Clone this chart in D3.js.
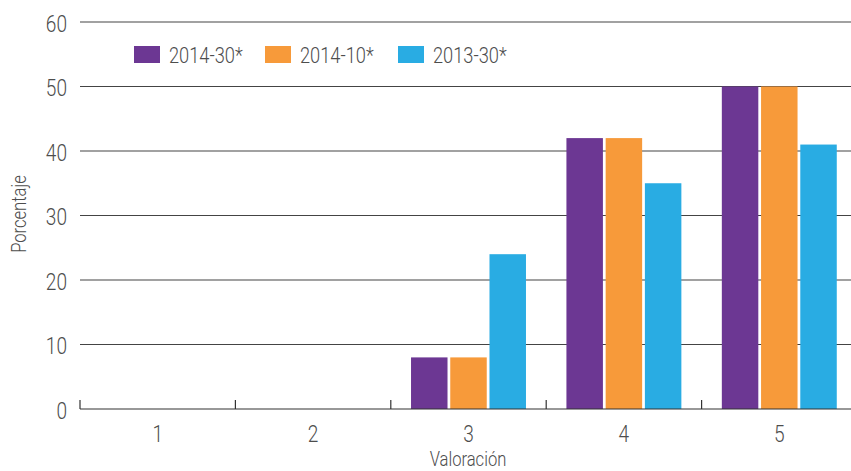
<!DOCTYPE html>
<html>
<head>
<meta charset="utf-8">
<script src="https://cdn.jsdelivr.net/npm/d3@7"></script>
<style>
  body { margin: 0; background: #fff; }
  svg text { font-family: Roboto, "Liberation Sans", sans-serif; font-weight: 300; fill: #4d4d4d; }
</style>
</head>
<body>
<svg id="chart" width="851" height="471"></svg>
<script>
// Valoración categories and percentage per series
const categories = ["1", "2", "3", "4", "5"];
const seriesNames = ["2014-30*", "2014-10*", "2013-30*"];
const values2014_30 = [0, 0, 8, 42, 50];
const values2014_10 = [0, 0, 8, 42, 50];
const values2013_30 = [0, 0, 24, 35, 41];
const yTicks = [0, 10, 20, 30, 40, 50, 60];
const colors = ["#6c3793", "#f79a3a", "#29ace3"];

const seriesValues = [values2014_30, values2014_10, values2013_30];
const rows = categories.map((c, i) => ({
  cat: c,
  vals: seriesNames.map((s, j) => ({ key: s, value: seriesValues[j][i], idx: j }))
}));

const svg = d3.select("#chart");
const plotLeft = 80, plotRight = 857, plotTop = 22, plotBottom = 409;
const narrow = 0.83; // horizontal squeeze for a condensed look

const x0 = d3.scaleBand().domain(categories).range([plotLeft, plotRight])
  .paddingInner(0.225).paddingOuter(0.1125);
const x1 = d3.scaleBand().domain(seriesNames).range([0, x0.bandwidth()]).padding(0.07);
const y = d3.scaleLinear().domain([0, 60]).range([plotBottom, plotTop]);

// places a condensed text label at (x, y)
function label(parent, x, yPos, txt, size, anchor, rotate) {
  return parent.append("text")
    .attr("transform", `translate(${x},${yPos})` + (rotate ? ` rotate(${rotate})` : "") + ` scale(${narrow},1)`)
    .attr("text-anchor", anchor).attr("font-size", size).text(txt);
}

// horizontal gridlines
svg.append("g").selectAll("line").data(yTicks.filter(d => d > 0)).join("line")
  .attr("x1", plotLeft).attr("x2", 851)
  .attr("y1", d => y(d)).attr("y2", d => y(d))
  .attr("stroke", "#444").attr("stroke-width", 1.2);

// y tick labels
const yLab = svg.append("g");
yTicks.forEach(d => label(yLab, 67, y(d) + 9.5, d, 23, "end"));

// bars
const groups = svg.append("g").selectAll("g").data(rows).join("g")
  .attr("transform", d => `translate(${x0(d.cat)},0)`);
groups.selectAll("rect").data(d => d.vals).join("rect")
  .attr("x", d => x1(d.key))
  .attr("width", x1.bandwidth())
  .attr("y", d => y(d.value))
  .attr("height", d => y(0) - y(d.value))
  .attr("fill", d => colors[d.idx]);

// x axis with ticks between categories
const step = x0.step();
const xAxisG = svg.append("g");
xAxisG.append("line").attr("x1", plotLeft).attr("x2", 851)
  .attr("y1", plotBottom).attr("y2", plotBottom).attr("stroke", "#333").attr("stroke-width", 1.2);
const boundaries = d3.range(categories.length).map(i => plotLeft + i * step);
xAxisG.selectAll("line.tick").data(boundaries).join("line").attr("class", "tick")
  .attr("x1", d => d).attr("x2", d => d)
  .attr("y1", plotBottom - 9).attr("y2", plotBottom)
  .attr("stroke", "#333").attr("stroke-width", 1.2);
categories.forEach(c => label(xAxisG, x0(c) + x0.bandwidth() / 2, 442, c, 23, "middle"));

// axis titles
label(svg, 468, 466, "Valoración", 20, "middle");
label(svg, 26, 214, "Porcentaje", 20, "middle", -90);

// legend
const legendX = [134, 265, 398];
const legend = svg.append("g");
seriesNames.forEach((s, i) => {
  legend.append("rect").attr("x", legendX[i]).attr("y", 46)
    .attr("width", 26).attr("height", 17).attr("fill", colors[i]);
  label(legend, legendX[i] + 35, 62.5, s, 22, "start");
});
</script>
</body>
</html>
